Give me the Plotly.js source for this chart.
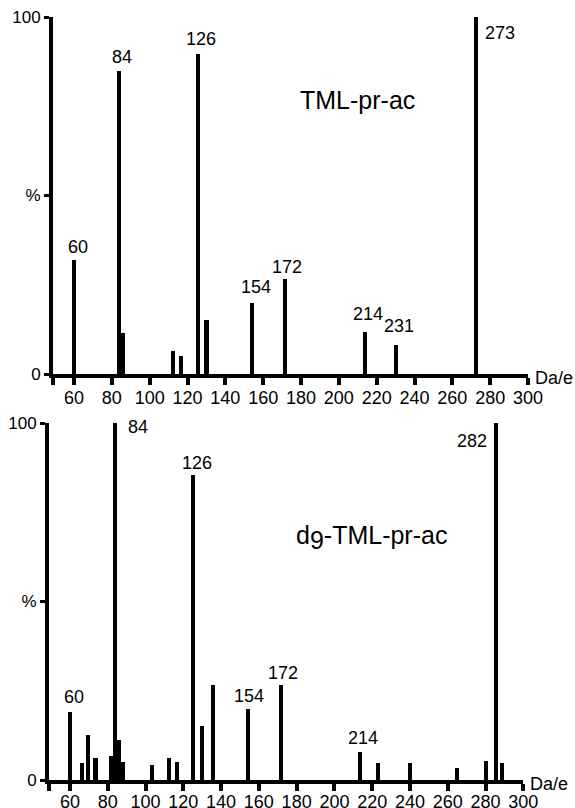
<!DOCTYPE html>
<html>
<head>
<meta charset="utf-8">
<script src="https://cdn.plot.ly/plotly-3.0.1.min.js"></script>
<style>html,body{margin:0;padding:0;background:#fff;}#chart{width:575px;height:808px;}</style>
</head>
<body>
<div id="chart"></div>
<script>
// ---- data ----
// Top spectrum: TML-pr-ac
var topMz = [60, 84, 86, 112.5, 116.5, 125.7, 130, 154.2, 171.6, 214, 230.3, 272.5];
var topPct = [32, 85, 11.5, 6.4, 5.1, 89.5, 15, 19.8, 26.5, 11.7, 8.1, 100];
// Bottom spectrum: d9-TML-pr-ac
var botMz = [60, 66.3, 69.6, 73.5, 82, 84, 85.8, 88.2, 103.6, 112.6, 116.6, 125.3, 130, 135.5, 154.2, 171.7, 213.7, 222.9, 240, 265, 280.3, 285.6, 288.6];
var botPct = [19.1, 4.9, 12.6, 6.3, 6.6, 100, 11.2, 5.1, 4.3, 6.3, 5.1, 85.4, 15.1, 26.6, 19.8, 26.6, 7.8, 4.9, 4.9, 3.3, 5.3, 100, 4.7];
// Peak labels: index of the labelled bar and label text
var topLabelIdx = [0, 1, 5, 7, 8, 9, 10, 11];
var topLabelText = ["60", "84", "126", "154", "172", "214", "231", "273"];
var botLabelIdx = [0, 5, 11, 14, 15, 16, 21];
var botLabelText = ["60", "84", "126", "154", "172", "214", "282"];
// Axis ticks
var xTickVals = [48.9, 60, 80, 100, 120, 140, 160, 180, 200, 220, 240, 260, 280, 300];
var xTickText = [" ", "60", "80", "100", "120", "140", "160", "180", "200", "220", "240", "260", "280", "300"];
var yTickVals = [0, 50, 100];
var yTickText = ["0", "%", "100"];
var titles = ["TML-pr-ac", "d<sub><span style='font-size:25px'>9</span></sub>-TML-pr-ac"];
var unitLabel = "Da/e";

// ---- styling ----
var FONT = "Liberation Sans, Arial, Helvetica, sans-serif";
var BAR_W = 2.2;

var traces = [
  {type: "bar", x: topMz, y: topPct, width: topMz.map(function(){return BAR_W;}),
   marker: {color: "#000", line: {width: 0}}, xaxis: "x", yaxis: "y", hoverinfo: "x+y"},
  {type: "bar", x: botMz, y: botPct, width: botMz.map(function(){return BAR_W;}),
   marker: {color: "#000", line: {width: 0}}, xaxis: "x2", yaxis: "y2", hoverinfo: "x+y"}
];

function xAxis(domain, anchor, standoff) {
  return {
    domain: domain, anchor: anchor, range: [48.9, 300],
    showgrid: false, zeroline: false, showline: true, linecolor: "#000", linewidth: 4,
    ticks: "outside", ticklen: 7, tickwidth: 4, tickcolor: "#000",
    tickmode: "array", tickvals: xTickVals, ticktext: xTickText, ticklabelstandoff: standoff,
    tickfont: {family: FONT, size: 18, color: "#000"}, fixedrange: true
  };
}
function yAxis(domain, anchor) {
  return {
    domain: domain, anchor: anchor, range: [0, 100],
    showgrid: false, zeroline: false, showline: true, linecolor: "#000", linewidth: 4,
    ticks: "outside", ticklen: 5, tickwidth: 3, tickcolor: "#000",
    tickmode: "array", tickvals: yTickVals, ticktext: yTickText,
    tickfont: {family: FONT, size: 17, color: "#000"}, fixedrange: true
  };
}

// label offsets (px) relative to the top of the labelled bar
var topOff = [[4, 1, "center", "bottom"], [3, 2, "center", "bottom"], [3, 3, "center", "bottom"], [4, 4, "center", "bottom"],
              [2, 0, "center", "bottom"], [3, 6, "center", "bottom"], [3, 7, "center", "bottom"], [7, -4, "left", "top"]];
var botOff = [[4, 3, "center", "bottom"], [11, -4, "left", "middle"], [4, 0, "center", "bottom"], [1, 1, "center", "bottom"],
              [2, 0, "center", "bottom"], [3, 2, "center", "bottom"], [-7, -6, "right", "top"]];

var annotations = [];
function addLabels(mz, pct, idx, txt, off, xr, yr) {
  for (var i = 0; i < idx.length; i++) {
    var k = idx[i];
    annotations.push({x: mz[k], y: pct[k], xref: xr, yref: yr, text: txt[i], showarrow: false,
      xanchor: off[i][2], yanchor: off[i][3], xshift: off[i][0], yshift: off[i][1],
      font: {family: FONT, size: 18, color: "#000"}});
  }
}
addLabels(topMz, topPct, topLabelIdx, topLabelText, topOff, "x", "y");
addLabels(botMz, botPct, botLabelIdx, botLabelText, botOff, "x2", "y2");

// spectrum titles
annotations.push({x: 0.64, y: 0.767, xref: "x domain", yref: "y domain", text: titles[0], showarrow: false,
  xanchor: "center", yanchor: "middle", font: {family: FONT, size: 25, color: "#000"}});
annotations.push({x: 0.68, y: 0.678, xref: "x2 domain", yref: "y2 domain", text: titles[1], showarrow: false,
  xanchor: "center", yanchor: "middle", font: {family: FONT, size: 25, color: "#000"}});
// unit labels
annotations.push({x: 1, y: 0, xref: "x domain", yref: "y domain", text: unitLabel, showarrow: false,
  xanchor: "left", yanchor: "middle", xshift: 5, yshift: -4, font: {family: FONT, size: 18, color: "#000"}});
annotations.push({x: 1, y: 0, xref: "x2 domain", yref: "y2 domain", text: unitLabel, showarrow: false,
  xanchor: "left", yanchor: "middle", xshift: 5, yshift: -4, font: {family: FONT, size: 18, color: "#000"}});

var layout = {
  width: 575, height: 808,
  margin: {l: 0, r: 0, t: 0, b: 0},
  paper_bgcolor: "#fff", plot_bgcolor: "#fff",
  showlegend: false, bargap: 0,
  font: {family: FONT, color: "#000"},
  xaxis: xAxis([53/575, 528/575], "y", -3),
  yaxis: yAxis([(808-374)/808, (808-17)/808], "x"),
  xaxis2: xAxis([49/575, 523.3/575], "y2", -5),
  yaxis2: yAxis([(808-780)/808, (808-423)/808], "x2"),
  annotations: annotations
};

Plotly.newPlot("chart", traces, layout, {displayModeBar: false, staticPlot: true});
</script>
</body>
</html>
